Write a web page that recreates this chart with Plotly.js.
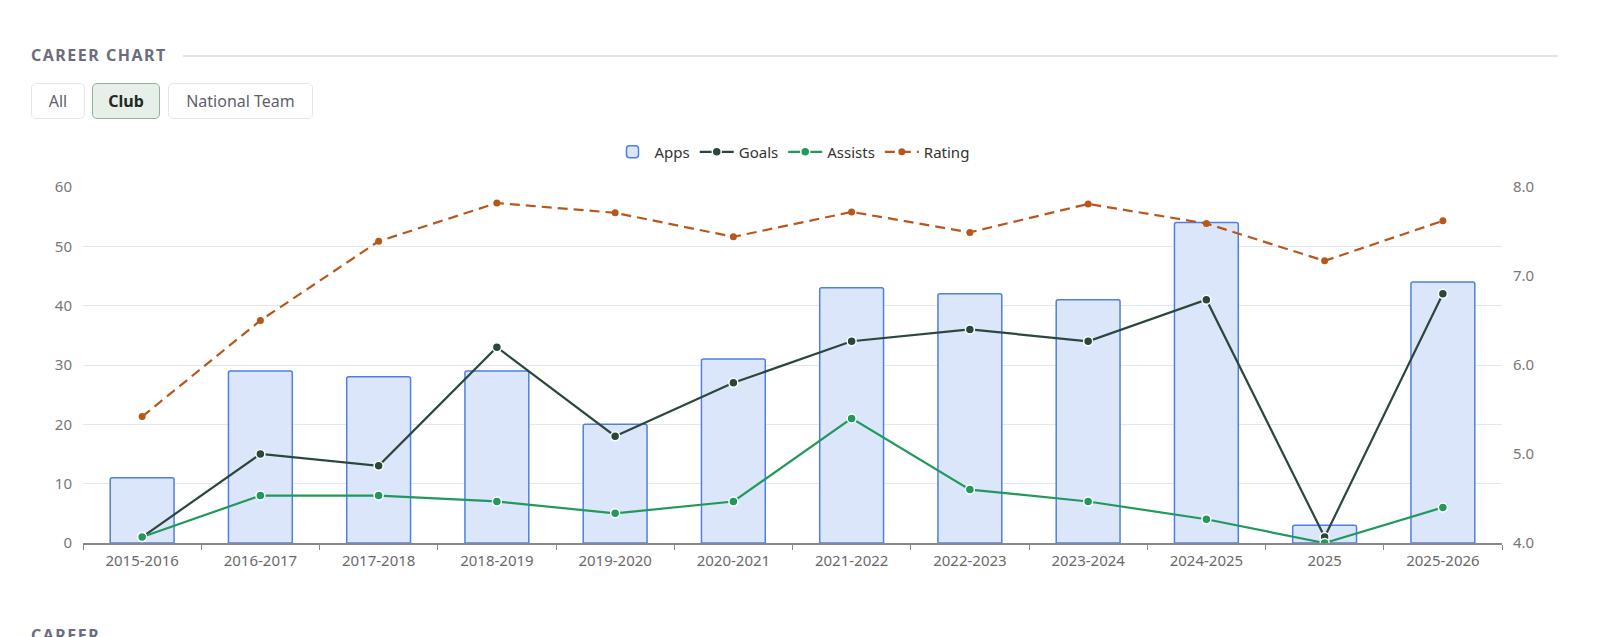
<!DOCTYPE html>
<html>
<head>
<meta charset="utf-8">
<script src="https://cdn.plot.ly/plotly-3.0.1.min.js"></script>
<style>
  html, body { margin:0; padding:0; background:#fff; width:1600px; height:637px; overflow:hidden; font-family:"Noto Sans", "Open Sans", sans-serif; }
  #chart { position:absolute; left:0; top:0; width:1600px; height:637px; }
  .hdr { position:absolute; left:31px; top:44px; font-size:16px; font-weight:700; letter-spacing:1.5px; color:#6c6c80; }
  .hline { position:absolute; left:183px; top:55px; width:1375px; height:2px; background:#e3e3e8; }
  .btn { position:absolute; top:83px; height:34px; border:1px solid #e6e6ea; border-radius:5px; background:#fff; color:#5f5f6c; font-size:16px; line-height:34px; text-align:center; box-sizing:content-box; }
  .btn.active { background:#e6efe8; border-color:#8fb39b; color:#1f2a24; font-weight:700; }
  .sub { position:absolute; left:31px; top:624px; font-size:16px; font-weight:700; letter-spacing:1.5px; color:#6c6c80; }
</style>
</head>
<body>
<div id="chart"></div>
<div class="hdr">CAREER CHART</div>
<div class="hline"></div>
<div class="btn" style="left:31px;width:52px;">All</div>
<div class="btn active" style="left:92px;width:66px;">Club</div>
<div class="btn" style="left:168px;width:143px;">National Team</div>
<div class="sub">CAREER</div>
<script>
const seasons = ["2015-2016","2016-2017","2017-2018","2018-2019","2019-2020","2020-2021","2021-2022","2022-2023","2023-2024","2024-2025","2025","2025-2026"];
const apps    = [11, 29, 28, 29, 20, 31, 43, 42, 41, 54, 3, 44];
const goals   = [1, 15, 13, 33, 18, 27, 34, 36, 34, 41, 1, 42];
const assists = [1, 8, 8, 7, 5, 7, 21, 9, 7, 4, 0, 6];
const rating  = [5.42, 6.50, 7.39, 7.82, 7.71, 7.44, 7.72, 7.49, 7.81, 7.59, 7.17, 7.62];
const leftTicks  = [0, 10, 20, 30, 40, 50, 60];
const rightTicks = [4, 5, 6, 7, 8];

const traces = [
  { type:'bar', name:'Apps', x:seasons, y:apps,
    marker:{ color:'#dbe6fa', line:{ color:'#4f80e0', width:1.5 }, cornerradius:2 } },
  { type:'scatter', mode:'lines+markers', name:'Goals', x:seasons, y:goals,
    line:{ color:'#2b473c', width:2.2 },
    marker:{ color:'#2b473c', size:9, line:{ color:'#ffffff', width:1.5 } } },
  { type:'scatter', mode:'lines+markers', name:'Assists', x:seasons, y:assists,
    line:{ color:'#20995a', width:2.2 },
    marker:{ color:'#20995a', size:9, line:{ color:'#ffffff', width:1.5 } } },
  { type:'scatter', mode:'lines+markers', name:'Rating', x:seasons, y:rating, yaxis:'y2',
    line:{ color:'#b8561b', width:2.2, dash:'10px,6px' },
    marker:{ color:'#b8561b', size:7 } }
];

const layout = {
  width:1600, height:637,
  margin:{ l:83, r:98, t:187, b:94, pad:0 },
  paper_bgcolor:'rgba(0,0,0,0)', plot_bgcolor:'rgba(0,0,0,0)',
  font:{ family:'"Noto Sans", "Open Sans", sans-serif', size:15, color:'#777' },
  bargap:0.46,
  showlegend:true,
  legend:{ orientation:'h', x:0.5, xanchor:'center', y:1.098, yanchor:'middle',
           font:{ size:15, color:'#333' }, itemwidth:34, traceorder:'normal' },
  xaxis:{ type:'category', range:[-0.5, 11.5], autorange:false, tickson:'boundaries', ticks:'outside', ticklen:5, tickcolor:'#888',
          showline:true, linecolor:'#888', linewidth:1.5, showgrid:false, zeroline:false,
          ticklabelstandoff:3, automargin:false,
          tickfont:{ size:15, color:'#6a6a6a' }, fixedrange:true },
  yaxis:{ range:[0,60], autorange:false, tickvals:leftTicks, ticktext:leftTicks.map(String), showgrid:true,
          gridcolor:'#e3e7f1', gridwidth:1, zeroline:false, showline:false, ticks:'',
          ticklabelstandoff:10, automargin:false, tickfont:{ size:15, color:'#777' }, fixedrange:true },
  yaxis2:{ range:[4,8], autorange:false, overlaying:'y', side:'right', tickvals:rightTicks,
           ticktext:rightTicks.map(v=>v.toFixed(1)), showgrid:false, zeroline:false,
           showline:false, ticks:'', automargin:false,
           ticklabelstandoff:10, tickfont:{ size:15, color:'#777' }, fixedrange:true }
};

Plotly.newPlot('chart', traces, layout, { displayModeBar:false, staticPlot:true });
</script>
</body>
</html>
